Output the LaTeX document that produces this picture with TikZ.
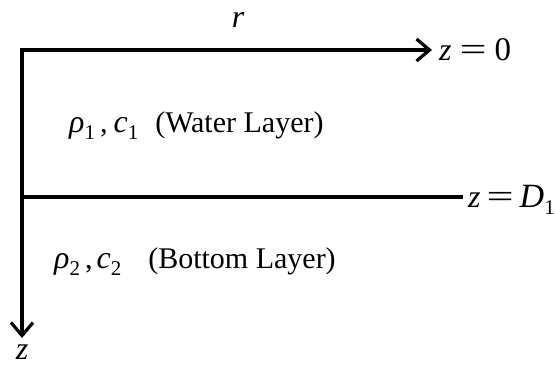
\documentclass[tikz,border=0pt]{standalone}
\usepackage{fontspec}
\usepackage{graphicx}
\setmainfont{Liberation Serif}
\usetikzlibrary{arrows.meta}
\newcommand{\sub}[1]{\raisebox{-0.25em}{\fontsize{21}{21}\selectfont #1}}
\newcommand{\bigit}[1]{{\fontsize{32}{32}\selectfont\itshape #1}}
\newcommand{\weq}{\scalebox{1.6}[1.1]{=}}
\begin{document}
\begin{tikzpicture}[x=1pt,y=-1pt,
  axis/.style={line width=3.2pt},
  axisarrow/.style={line width=3.2pt,-{Straight Barb[length=13pt,width=22pt,line width=3.2pt]}},
  lbl/.style={inner sep=0pt,font=\fontsize{30}{32}\selectfont},
  lblb/.style={lbl,anchor=base west}]
\useasboundingbox (0,0) rectangle (555,368);
\coordinate (o) at (22,50);
\coordinate (rend) at (432,50);
\coordinate (zend) at (22,338);
\coordinate (dl) at (22,197);
\coordinate (dr) at (463,197);
\draw[axisarrow] ([xshift=-1.6pt]o) -- (rend);
\draw[axisarrow] ([yshift=-1.6pt]o) -- (zend);
\draw[axis] (dl) -- (dr);
\node[lbl] (r) at (238,20) {\bigit{r}};
\node[lblb] (z0) at (439,60) {\bigit{z}\hspace{8pt}\weq\hspace{8pt}{\fontsize{33}{33}\selectfont 0}};
\node[lblb] (zd) at (468,207) {\bigit{z}\hspace{6pt}\weq\hspace{6pt}{\fontsize{34}{34}\selectfont\itshape D}\sub{1}};
\node[lbl] (zz) at (22,352) {\bigit{z}};
\node[lblb] (w) at (69,132) {\bigit{ρ}\sub{1}\hspace{5pt},\hspace{6pt}\bigit{c}\sub{1}\hspace{17pt}(Water Layer)};
\node[lblb] (b) at (54,268) {\bigit{ρ}\sub{2}\hspace{5pt},\hspace{4pt}\bigit{c}\sub{2}\hspace{27pt}(Bottom Layer)};
\end{tikzpicture}
\end{document}
